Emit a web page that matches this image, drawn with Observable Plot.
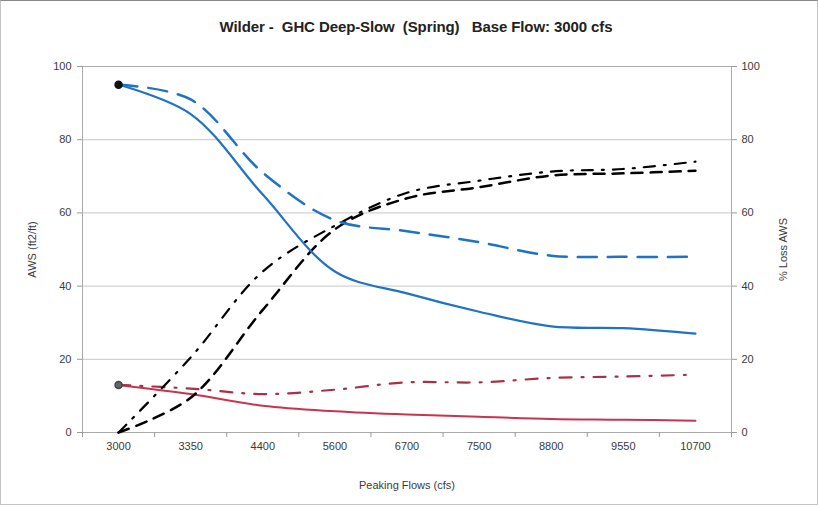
<!DOCTYPE html>
<html><head><meta charset="utf-8">
<script src="https://cdn.jsdelivr.net/npm/d3@7"></script>
<script src="https://cdn.jsdelivr.net/npm/@observablehq/plot@0.6"></script>
<style>
body{margin:0;background:#fff;}
#wrap{position:relative;width:818px;height:505px;box-sizing:border-box;font-family:"Liberation Sans",Arial,sans-serif;background:#fff;}
#frame{position:absolute;left:0;top:0;width:818px;height:505px;box-sizing:border-box;border:1px solid #c4c4c4;border-top-color:#888;pointer-events:none;}
#title{position:absolute;left:0;top:18px;width:832px;text-align:center;font-weight:bold;font-size:15px;line-height:18px;color:#222;white-space:pre;letter-spacing:-0.1px;}
#chart{position:absolute;left:0;top:49px;}
</style></head><body>
<div id="wrap"><div id="title">Wilder -  GHC Deep-Slow  (Spring)   Base Flow: 3000 cfs</div><div id="chart"></div><div id="frame"></div></div>
<script>
const categories = ["3000","3350","4400","5600","6700","7500","8800","9550","10700"];
const awsSolid    = [95, 87, 65, 44, 38, 33, 29, 28.5, 27];
const awsDashed   = [95, 91, 71, 58, 55, 52, 48.3, 48, 48];
const lossDashed  = [0, 9.5, 33.5, 55.5, 64, 67, 70.2, 70.8, 71.5];
const lossDashDot = [0, 20.5, 44, 56.5, 65.5, 68.8, 71.3, 72, 74];
const redSolid    = [13, 10.5, 7.3, 5.8, 4.9, 4.3, 3.7, 3.5, 3.2];
const redDashDot  = [13, 12, 10.5, 11.7, 13.7, 13.7, 14.9, 15.3, 15.8];
const yTicks = [0, 20, 40, 60, 80, 100];
const leftLabel = "AWS (ft2/ft)";
const rightLabel = "% Loss AWS";
const xLabel = "Peaking Flows (cfs)";

const idx = categories.map((_, i) => i);
const bounds = [-0.5, ...idx.map(i => i + 0.5)];
const rows = vals => vals.map((v, i) => ({i, v}));
const crv = "catmull-rom";

const chart = Plot.plot({
  width: 818, height: 455,
  marginLeft: 82, marginRight: 87, marginTop: 17, marginBottom: 72,
  style: {fontFamily: "'Liberation Sans', Arial, sans-serif", fontSize: "11px", color: "#3a3a3a", background: "transparent"},
  x: {type: "linear", domain: [-0.5, categories.length - 0.5]},
  y: {domain: [0, 100]},
  marks: [
    Plot.gridY(yTicks.filter(t => t > 0 && t < 100), {stroke: "#c6c6c6", strokeOpacity: 1}),
    Plot.ruleY([0, 100], {stroke: "#aaaaaa"}),
    Plot.ruleX([bounds[0], bounds[bounds.length - 1]], {stroke: "#aaaaaa"}),
    Plot.axisY({ticks: yTicks, anchor: "left", tickSize: 5, tickPadding: 6, stroke: "#999",
      label: leftLabel, labelAnchor: "center", labelArrow: "none", labelOffset: 54, fontSize: 11}),
    Plot.axisY({ticks: yTicks, anchor: "right", tickSize: 5, tickPadding: 5, stroke: "#999",
      label: rightLabel, labelAnchor: "center", labelArrow: "none", labelOffset: 55, fontSize: 11}),
    Plot.axisX({ticks: bounds, tickSize: 5, tickFormat: () => "", stroke: "#999", label: null}),
    Plot.axisX({ticks: idx, tickSize: 0, tickPadding: 10, tickFormat: i => categories[i],
      label: xLabel, labelAnchor: "center", labelArrow: "none", labelOffset: 56, fontSize: 11}),
    Plot.line(rows(redSolid), {x: "i", y: "v", stroke: "#c8344f", strokeWidth: 2, curve: crv}),
    Plot.line(rows(redDashDot), {x: "i", y: "v", stroke: "#a83048", strokeWidth: 2.2, strokeDasharray: "12,10,2,10", curve: crv}),
    Plot.line(rows(lossDashed), {x: "i", y: "v", stroke: "#000", strokeWidth: 2.5, strokeDasharray: "11,8", curve: crv}),
    Plot.line(rows(lossDashDot), {x: "i", y: "v", stroke: "#000", strokeWidth: 2.2, strokeDasharray: "11,9,2,9", curve: crv}),
    Plot.line(rows(awsDashed), {x: "i", y: "v", stroke: "#1f72c4", strokeWidth: 2.5, strokeDasharray: "19,11", curve: crv}),
    Plot.line(rows(awsSolid), {x: "i", y: "v", stroke: "#1f72c4", strokeWidth: 2.2, curve: crv}),
    Plot.dot([{i: 0, v: awsSolid[0]}], {x: "i", y: "v", r: 3.5, fill: "#111", stroke: "#111"}),
    Plot.dot([{i: 0, v: redSolid[0]}], {x: "i", y: "v", r: 3.5, fill: "#666", stroke: "#444"})
  ]
});
document.getElementById("chart").append(chart);
</script>
</body></html>
